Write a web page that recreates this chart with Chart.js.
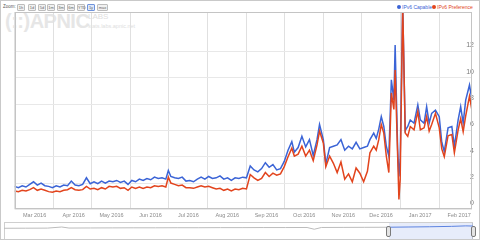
<!DOCTYPE html>
<html>
<head>
<meta charset="utf-8">
<script src="https://cdn.jsdelivr.net/npm/chart.js@4/dist/chart.umd.min.js"></script>
<style>
html, body { margin: 0; padding: 0; background: #fff; }
#wrap { position: relative; width: 480px; height: 240px; overflow: hidden; font-family: "Liberation Sans", Arial, sans-serif; }
#frame { position: absolute; left: 0; top: 0; width: 480px; height: 240px; box-sizing: border-box; border: 1px solid #c9c9c9; pointer-events: none; }
#main { position: absolute; left: 0; top: 0; }
#nav { position: absolute; left: 4px; top: 223px; }
.mark { position: absolute; white-space: nowrap; }
.btn { position: absolute; top: 4px; height: 5px; box-sizing: content-box; border: 1px solid #bdbdbd; background: #f1f1f1; font-size: 4px; line-height: 5px; text-align: center; color: #666; border-radius: 1px; }
.btn.on { border-color: #6f93dc; background: #dde7fa; }
.handle { position: absolute; top: 226px; width: 3px; height: 9px; background: #e4e4e4; border: 1px solid #7a7a7a; border-radius: 2px; }
</style>
</head>
<body>
<div id="wrap">
  <div class="mark" style="left:5px;top:10px;font-size:20px;font-weight:bold;color:#e6e6e6;letter-spacing:-0.5px">(::)APNIC</div>
  <div class="mark" style="left:88px;top:12px;font-size:8px;color:#dedede">LABS</div>
  <div class="mark" style="left:88px;top:23px;font-size:5.5px;color:#dedede">stats.labs.apnic.net</div>
  <div class="mark" style="left:3px;top:4px;font-size:4.5px;line-height:6px;color:#555">Zoom:</div>
  <div id="buttons"></div>
  <div class="mark" style="left:397px;top:5px;width:4px;height:4px;border-radius:2px;background:#3b64d6"></div>
  <div class="mark" style="left:402px;top:4px;font-size:5px;line-height:6px;color:#3b64d6">IPv6 Capable</div>
  <div class="mark" style="left:432px;top:5px;width:4px;height:4px;border-radius:2px;background:#e2441d"></div>
  <div class="mark" style="left:437px;top:4px;font-size:5px;line-height:6px;color:#e2441d">IPv6 Preference</div>
  <canvas id="main" width="480" height="222"></canvas>
  <div class="mark" style="left:4px;top:222px;width:467px;height:16px;border:1px solid #cfcfcf"></div>
  <div class="mark" style="left:389px;top:223px;width:84px;height:16px;background:rgba(70,110,220,0.13)"></div>
  <canvas id="nav" width="469" height="16"></canvas>
  <div class="handle" style="left:386px"></div>
  <div class="handle" style="left:471px"></div>
  <div id="frame"></div>
</div>
<script>
// days counted from 1 Mar 2016
const days = [0,3,6,9,12,15,18,21,24,27,30,33,36,39,42,45,48,51,54,57,60,63,66,69,72,75,78,81,84,87,90,93,96,99,102,105,108,111,114,117,120,122,124,127,130,133,136,139,142,145,148,151,154,157,160,163,166,169,172,175,178,181,184,187,190,193,196,199,202,205,208,211,214,217,220,222,225,228,231,234,237,240,242,245,247,250,253,256,259,262,265,268,271,274,277,280,282,285,287,289,291,293,295,297,299,301,302,304,305,306,308,310,312,314,317,320,322,325,327,329,331,334,337,339,341,344,347,349,352,354,356,358,361,363];
const ipv6Capable = [1.75,1.65,1.8,1.7,1.9,2.1,1.85,2.0,1.8,1.75,1.65,1.8,1.7,1.85,1.8,2.15,1.85,1.8,1.9,2.4,1.95,2.1,1.95,2.15,2.0,2.15,2.1,2.2,2.05,2.15,1.9,2.2,2.1,2.3,2.2,2.35,2.25,2.45,2.35,2.4,2.3,2.95,2.5,2.4,2.35,2.45,2.15,2.2,2.1,2.3,2.45,2.3,2.5,2.35,2.4,2.55,2.3,2.4,2.2,2.4,2.35,2.45,2.4,3.3,3.0,2.85,3.1,3.55,3.2,3.4,3.0,3.1,3.65,4.5,5.15,4.35,4.7,5.55,4.75,5.3,4.1,5.3,6.45,5.3,3.45,4.7,4.8,4.9,5.3,4.5,4.8,4.6,5.1,4.6,4.7,4.8,5.3,5.8,5.4,6.1,7.05,6.3,4.8,4.05,9.85,8.3,12.5,4.55,2.5,3.8,15.6,6.0,6.3,6.8,6.55,7.95,6.8,6.55,7.8,6.55,7.3,7.55,7.05,5.1,4.4,6.2,6.3,4.8,6.8,7.8,6.55,8.3,9.45,8.3];
const ipv6Preference = [1.4,1.35,1.45,1.4,1.5,1.65,1.45,1.55,1.45,1.35,1.3,1.4,1.35,1.45,1.5,1.65,1.5,1.45,1.5,1.75,1.55,1.6,1.5,1.65,1.55,1.75,1.7,1.75,1.6,1.65,1.45,1.7,1.6,1.7,1.6,1.7,1.65,1.8,1.75,1.8,1.7,2.45,2.0,1.9,1.8,1.85,1.65,1.65,1.6,1.7,1.8,1.7,1.75,1.65,1.55,1.6,1.45,1.55,1.4,1.55,1.5,1.6,1.55,2.65,2.4,2.2,2.35,2.8,2.5,2.75,2.6,2.7,3.25,4.0,4.65,4.05,4.2,4.8,4.05,4.5,3.7,4.9,5.95,5.05,3.25,4.05,3.5,2.8,3.6,2.3,2.7,2.1,3.15,2.75,2.1,2.9,4.3,4.8,4.5,5.3,6.45,5.8,4.05,2.8,8.85,7.6,10.6,4.05,0.75,2.3,15.5,5.8,5.55,6.3,6.05,7.45,6.05,6.2,7.05,5.95,6.45,7.3,6.2,4.6,4.0,5.6,5.7,4.3,6.05,6.9,5.9,7.1,8.6,7.5];
const monthStarts = [0,31,61,92,122,153,184,214,245,275,306,337];
const monthLabels = ['Mar 2016','Apr 2016','May 2016','Jun 2016','Jul 2016','Aug 2016','Sep 2016','Oct 2016','Nov 2016','Dec 2016','Jan 2017','Feb 2017'];
const yTicks = [0,2,4,6,8,10,12];

// overview strip, months counted from Sep 2011
const navMonths = [0,3,6,8,9,12,15,18,21,24,27,30,33,36,39,42,43,44,47,50,53,56,59,62,64,65];
const navValues = [3.4,3.5,3.6,5.0,3.7,3.8,3.9,4.0,4.0,4.1,4.1,4.2,4.2,4.3,4.3,4.4,2.2,4.4,4.5,4.6,4.7,5.0,5.3,5.8,6.4,6.2];
const navTickMonths = [1,4,7,10,13,16,19,22,25,28,31,34,37,40,43,46,49,52,55,58,61,64];
const navTickLabels = ['Oct','2012','Apr','Jul','Oct','2013','Apr','Jul','Oct','2014','Apr','Jul','Oct','2015','Apr','Jul','Oct','2016','Apr','Jul','Oct','2017'];
const zoomButtons = ['1h','1d','5d','1m','3m','6m','YTD','1y','max'];
const buttonLeft = [17,28,38,47,57,67,77,87,97];

const BLUE = '#3b64d6';
const RED = '#e2441d';

// zoom buttons
const btnBox = document.getElementById('buttons');
zoomButtons.forEach((label, i) => {
  const b = document.createElement('div');
  b.className = 'btn' + (label === '1y' ? ' on' : '');
  b.style.left = buttonLeft[i] + 'px';
  b.style.width = (label === 'max' ? 9 : 6) + 'px';
  b.textContent = label;
  btnBox.appendChild(b);
});

const areaBorder = {
  id: 'areaBorder',
  afterDraw(chart) {
    const a = chart.chartArea, c = chart.ctx;
    c.save();
    c.strokeStyle = '#c4c4c4';
    c.lineWidth = 1;
    c.strokeRect(Math.round(a.left) + 0.5, Math.round(a.top) + 0.5, Math.round(a.right - a.left) - 1, Math.round(a.bottom - a.top) - 1);
    c.restore();
  }
};

const mainChart = new Chart(document.getElementById('main'), {
  type: 'line',
  data: {
    datasets: [
      { label: 'IPv6 Capable', data: days.map((d, i) => ({ x: d, y: ipv6Capable[i] })), borderColor: BLUE, order: 2 },
      { label: 'IPv6 Preference', data: days.map((d, i) => ({ x: d, y: ipv6Preference[i] })), borderColor: RED, order: 1 }
    ]
  },
  options: {
    responsive: false,
    animation: false,
    layout: { padding: { left: 4, top: 12, right: 4, bottom: 0 } },
    elements: { point: { radius: 0 }, line: { borderWidth: 1.5, tension: 0 } },
    plugins: { legend: { display: false }, tooltip: { enabled: false } },
    scales: {
      x: {
        type: 'linear', min: 0, max: 363,
        afterBuildTicks: axis => { axis.ticks = monthStarts.map(v => ({ value: v })); },
        grid: { color: '#e0e0e0', drawTicks: false },
        border: { display: false },
        ticks: {
          autoSkip: false, maxRotation: 0, labelOffset: 20, padding: 3,
          color: '#8a8a8a', font: { family: 'Liberation Sans', size: 5.5 },
          callback: v => monthLabels[monthStarts.indexOf(v)]
        }
      },
      y: {
        position: 'right', min: 0, max: 15,
        afterBuildTicks: axis => { axis.ticks = yTicks.map(v => ({ value: v })); },
        grid: { color: '#e8e8e8', drawTicks: false },
        border: { display: false },
        ticks: { mirror: true, padding: 2, labelOffset: -6, color: '#7a7a7a', font: { family: 'Liberation Sans', size: 7 } }
      }
    }
  },
  plugins: [areaBorder]
});

const navChart = new Chart(document.getElementById('nav'), {
  type: 'line',
  data: {
    datasets: [{
      data: navMonths.map((m, i) => ({ x: m, y: navValues[i] })),
      borderColor: '#bcbcbc',
      borderWidth: 1,
      segment: { borderColor: ctx => ctx.p0.parsed.x >= 53 ? '#5b82e0' : '#bcbcbc' }
    }]
  },
  options: {
    responsive: false,
    animation: false,
    layout: { padding: 0 },
    elements: { point: { radius: 0 }, line: { tension: 0 } },
    plugins: { legend: { display: false }, tooltip: { enabled: false } },
    scales: {
      x: {
        type: 'linear', min: 0, max: 65,
        afterBuildTicks: axis => { axis.ticks = navTickMonths.map(v => ({ value: v })); },
        grid: { display: false },
        border: { display: false },
        ticks: {
          autoSkip: false, maxRotation: 0, padding: 0,
          color: '#b5b5b5', font: { family: 'Liberation Sans', size: 4 },
          callback: v => navTickLabels[navTickMonths.indexOf(v)]
        }
      },
      y: { display: false, min: 0, max: 10 }
    }
  }
});
</script>
</body>
</html>
